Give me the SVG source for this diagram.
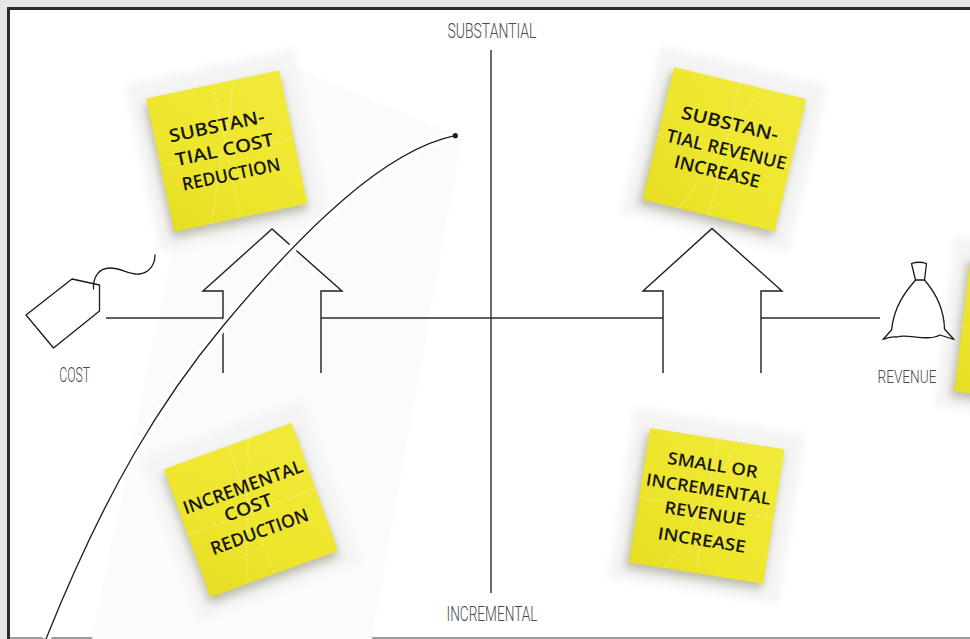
<svg xmlns="http://www.w3.org/2000/svg" width="970" height="639" viewBox="0 0 970 639">
  <defs>
    <style>
      .ax{fill:none;stroke:#2e2e2e;stroke-width:1.4}
      .arr{fill:none;stroke:#1e1e1e;stroke-width:1.4;stroke-linejoin:miter}
      .lbl{font-family:Roboto,'Liberation Sans',sans-serif;font-weight:300;fill:#4a4a4a;text-anchor:middle}
      .hand{font-family:'Open Sans','DejaVu Sans',sans-serif;font-weight:600;fill:#17170f;text-anchor:middle}
      .guide{fill:none;stroke:#ffffff;stroke-opacity:.6;stroke-width:.7;stroke-dasharray:2 2}
      .icon{fill:none;stroke:#1a1a1a;stroke-width:1.3;stroke-linejoin:round;stroke-linecap:round}
    </style>
    <linearGradient id="yel" x1="1" y1="0" x2="0" y2="1">
      <stop offset="0" stop-color="#f1ea3a"/>
      <stop offset="0.6" stop-color="#eee62c"/>
      <stop offset="1" stop-color="#e6de24"/>
    </linearGradient>
    <filter id="soft" x="-20%" y="-20%" width="140%" height="140%">
      <feGaussianBlur stdDeviation="3.5"/>
    </filter>
    <filter id="shade" x="-20%" y="-20%" width="140%" height="140%">
      <feGaussianBlur stdDeviation="4"/>
    </filter>
    <!-- sticky note: paper backing, soft shadow, yellow sheet, faint fold guides -->
    <g id="sticky">
      <rect x="-86" y="-86" width="172" height="172" fill="#f4f4f4" filter="url(#soft)"/>
      <rect x="-71" y="-63" width="138" height="137" fill="#7d7a55" opacity=".45" filter="url(#shade)"/>
      <rect x="-68" y="-68" width="136" height="136" fill="url(#yel)"/>
      <path class="guide" d="M0,-68V68M-68,2H68M-30,68L22,-68"/>
    </g>
  </defs>

  <!-- page and frame -->
  <rect x="0" y="0" width="970" height="639" fill="#e4e5e7"/>
  <rect x="8.5" y="8.5" width="1000" height="700" fill="#ffffff" stroke="#2b2b2b" stroke-width="3"/>
  <line x1="10" y1="638" x2="970" y2="638" stroke="#9c9c9c" stroke-width="2"/>

  <!-- faint backdrop band behind the curve -->
  <polygon points="282,62 462,138 372,639 92,639 172,250" fill="#fbfbfb"/>

  <!-- quadrant notes -->
  <g id="note-substantial-cost" transform="translate(226.8,151) rotate(-12)">
    <use href="#sticky"/>
    <text class="hand" x="-4.7" y="-20" font-size="18" textLength="97" lengthAdjust="spacingAndGlyphs">SUBSTAN-</text>
    <text class="hand" x="-2" y="4.5" font-size="18" textLength="100" lengthAdjust="spacingAndGlyphs">TIAL COST</text>
    <text class="hand" x="-0.6" y="30" font-size="18" textLength="100" lengthAdjust="spacingAndGlyphs">REDUCTION</text>
  </g>

  <g id="note-substantial-revenue" transform="translate(724.4,149.3) rotate(13.5)">
    <use href="#sticky"/>
    <text class="hand" x="-0.6" y="-20" font-size="18" textLength="99" lengthAdjust="spacingAndGlyphs">SUBSTAN-</text>
    <text class="hand" x="2" y="6" font-size="18" textLength="123" lengthAdjust="spacingAndGlyphs">TIAL REVENUE</text>
    <text class="hand" x="-1.8" y="29.5" font-size="18" textLength="88" lengthAdjust="spacingAndGlyphs">INCREASE</text>
  </g>

  <g id="note-incremental-cost" transform="translate(251,510) rotate(-20)">
    <use href="#sticky"/>
    <text class="hand" x="0.2" y="-18" font-size="18" textLength="126" lengthAdjust="spacingAndGlyphs">INCREMENTAL</text>
    <text class="hand" x="-2" y="3" font-size="18" textLength="50" lengthAdjust="spacingAndGlyphs">COST</text>
    <text class="hand" x="0.6" y="29.5" font-size="18" textLength="103" lengthAdjust="spacingAndGlyphs">REDUCTION</text>
  </g>

  <g id="note-incremental-revenue" transform="translate(706.7,505.9) rotate(9)">
    <use href="#sticky"/>
    <text class="hand" x="-0.5" y="-35.4" font-size="17" textLength="91" lengthAdjust="spacingAndGlyphs">SMALL OR</text>
    <text class="hand" x="-0.9" y="-10.9" font-size="17" textLength="126" lengthAdjust="spacingAndGlyphs">INCREMENTAL</text>
    <text class="hand" x="-0.3" y="13.6" font-size="17" textLength="82" lengthAdjust="spacingAndGlyphs">REVENUE</text>
    <text class="hand" x="0.5" y="40.4" font-size="17" textLength="89" lengthAdjust="spacingAndGlyphs">INCREASE</text>
  </g>

  <!-- note running off the right edge -->
  <g id="note-edge" transform="translate(1030,332) rotate(7)">
    <use href="#sticky"/>
  </g>

  <!-- axis labels -->
  <g id="labels">
    <text class="lbl" x="492" y="38" font-size="21" textLength="89" lengthAdjust="spacingAndGlyphs">SUBSTANTIAL</text>
    <text class="lbl" x="492" y="621" font-size="20" textLength="91" lengthAdjust="spacingAndGlyphs">INCREMENTAL</text>
    <text class="lbl" x="74.7" y="382" font-size="19.5" textLength="31" lengthAdjust="spacingAndGlyphs">COST</text>
    <text class="lbl" x="907" y="383" font-size="18.5" textLength="59" lengthAdjust="spacingAndGlyphs">REVENUE</text>
  </g>

  <!-- connectors: axes, arrows, curve -->
  <g id="connectors">
    <line class="ax" x1="491" y1="50" x2="491" y2="593"/>
    <path class="ax" d="M106,318H223M321,318H663M761,318H880"/>
    <path class="arr" d="M223,373V291H203L272,229L342,291H321V373"/>
    <path class="arr" d="M663,373V291H643L712,228.5L782,291H761V373"/>
    <path d="M46,639C106,489 163,398 223,326C303,230 385,150 455,135.7" fill="none" stroke="#ffffff" stroke-width="9"/>
    <path d="M46,639C106,489 163,398 223,326C303,230 385,150 455,135.7" fill="none" stroke="#1e1e1e" stroke-width="1.3"/>
    <circle cx="455.3" cy="135.7" r="2.6" fill="#1e1e1e"/>
  </g>

  <!-- cost: price tag -->
  <g id="cost-tag">
    <polygon class="icon" points="26,315 72,279 99.5,285 99.5,311 53.5,348"/>
    <path class="icon" d="M93.5,289C93,278 98,268 110,268C121,268 130,275 139,274C149,273 155,265 155,255"/>
  </g>

  <!-- revenue: money bag -->
  <g id="revenue-bag">
    <path class="icon" d="M911.5,263.5Q919,261 926.5,263.5L924.5,280H915.5Z"/>
    <path class="icon" d="M915.5,280C906,291 894,306 891.5,330L883,339.5Q890,336 897,337C906,333 928,342 940,335L954,339.5L944.5,329C944,306 934,291 924.5,280"/>
  </g>
</svg>
